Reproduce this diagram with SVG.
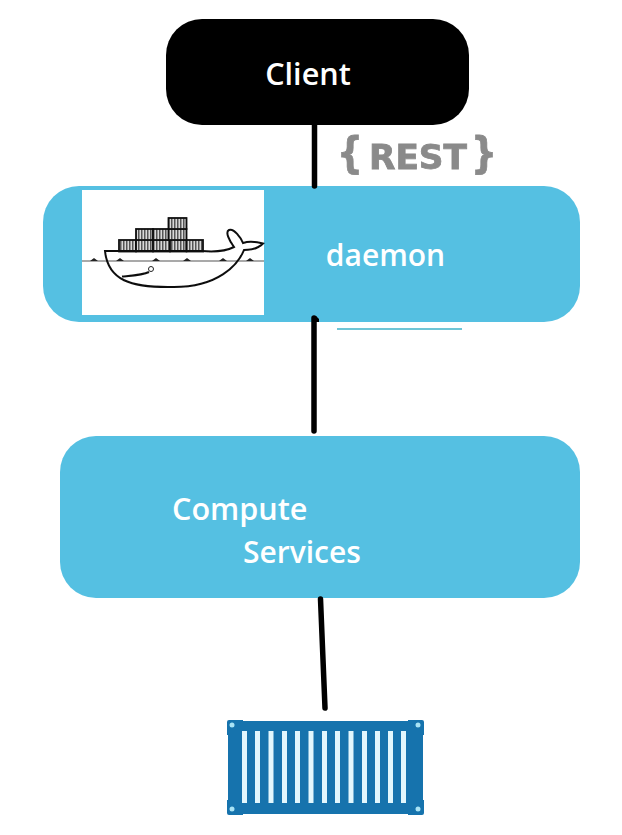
<svg xmlns="http://www.w3.org/2000/svg" width="622" height="835" viewBox="0 0 622 835">
<style>
.lbl{font-family:"Open Sans","Noto Sans",sans-serif;font-size:30.600px;font-weight:600;fill:#fff}
.conn{stroke:#000;stroke-width:5.500;stroke-linecap:round;fill:none}
.box{fill:#55c0e2}
.wl{fill:none;stroke:#111;stroke-width:2}
.crate{fill:url(#stripes);stroke:#111;stroke-width:1.800}
.slat{fill:#e2f7fd}
.cnr{fill:#a9e3f5}
.rest{font-family:"DejaVu Sans",sans-serif;font-weight:700;fill:#8a8a8a;stroke:#8a8a8a;stroke-width:0.800}
</style>
<defs>
<pattern id="stripes" width="3" height="4" patternUnits="userSpaceOnUse">
<rect width="3" height="4" fill="#d8d8d8"/>
<rect width="1.500" height="4" fill="#555"/>
</pattern>
<filter id="soft" x="-5%" y="-5%" width="110%" height="110%"><feGaussianBlur stdDeviation="0.500"/></filter>
</defs>
<rect width="622" height="835" fill="#fff"/>
<g id="client">
<rect x="166" y="19" width="303" height="106" rx="36" fill="#000"/>
<text class="lbl" x="308" y="85" text-anchor="middle">Client</text>
</g>
<g id="rest" filter="url(#soft)">
<text class="rest" x="337" y="168" font-size="42" textLength="26" lengthAdjust="spacingAndGlyphs">{</text>
<text class="rest" x="369" y="169" font-size="33" textLength="98" lengthAdjust="spacingAndGlyphs">REST</text>
<text class="rest" x="471" y="168" font-size="42" textLength="26" lengthAdjust="spacingAndGlyphs">}</text>
</g>
<g id="daemon">
<rect x="43" y="186" width="537" height="136" rx="36" class="box"/>
<rect x="82" y="190" width="182" height="125" fill="#fff"/>
<g id="whale" filter="url(#soft)">
<line x1="82" y1="261" x2="264" y2="261" stroke="#555" stroke-width="1"/>
<path d="M90 261l4-3 4 3zM116 261l4-3 4 3zM152 261l4-3 4 3zM183 261l4-3 4 3zM219 261l4-3 4 3zM246 261l4-3 4 3z" fill="#222"/>
<g>
<rect class="crate" x="119" y="240" width="17" height="11.500"/>
<rect class="crate" x="136" y="240" width="17" height="11.500"/>
<rect class="crate" x="153" y="240" width="17" height="11.500"/>
<rect class="crate" x="170" y="240" width="16.500" height="11.500"/>
<rect class="crate" x="186.500" y="240" width="16.500" height="11.500"/>
<rect class="crate" x="136" y="229" width="17" height="11"/>
<rect class="crate" x="153" y="229" width="17" height="11"/>
<rect class="crate" x="168.500" y="229" width="18" height="11"/>
<rect class="crate" x="168.500" y="218" width="18" height="11"/>
</g>
<path class="wl" d="M105 251H202C213 252 226 251 234 247C229 240 225 232 229 230C234 228 241 238 243 243C249 241 257 242 263 243.500C258 249 250 250 244 250C238 265 218 287 174 287C130 288 108 280 105 251Z"/>
<path class="wl" d="M122 276.500C133 275.500 143 275 149 272"/>
<circle cx="151" cy="269" r="2.500" fill="none" stroke="#222" stroke-width="1"/>
</g>
<text class="lbl" x="385.500" y="266" text-anchor="middle" style="font-size:30px">daemon</text>
</g>
<g id="compute">
<rect x="60" y="436" width="520" height="162" rx="36" class="box"/>
<text class="lbl" x="172" y="520">Compute</text>
<text class="lbl" x="243" y="563" style="font-size:30px">Services</text>
</g>
<g id="container" filter="url(#soft)">
<path d="M227 722Q227 720 229 720H243V721H408V720H422Q424 720 424 722V735H423V800H424V813Q424 815 422 815H408V814H243V815H229Q227 815 227 813V800H228V735H227Z" fill="#1573ad"/>
<g class="slat">
<rect x="242" y="731" width="5" height="72"/><rect x="255" y="731" width="5" height="72"/><rect x="268.500" y="731" width="5" height="72"/><rect x="282" y="731" width="5" height="72"/><rect x="295" y="731" width="5" height="72"/><rect x="308.500" y="731" width="5" height="72"/><rect x="322" y="731" width="5" height="72"/><rect x="335" y="731" width="5" height="72"/><rect x="348.500" y="731" width="5" height="72"/><rect x="362" y="731" width="5" height="72"/><rect x="375" y="731" width="5" height="72"/><rect x="388" y="731" width="5" height="72"/><rect x="401" y="731" width="5" height="72"/>
</g>
<circle class="cnr" cx="232" cy="725" r="2.500"/><circle class="cnr" cx="418" cy="725" r="2.500"/><circle class="cnr" cx="232" cy="809" r="2.500"/><circle class="cnr" cx="418" cy="809" r="2.500"/>
</g>
<g id="connectors">
<line class="conn" x1="314.500" y1="123" x2="314.500" y2="186"/>
<path class="conn" d="M314 318V431"/>
<path d="M316 316l3 3v3h-3z" fill="#000"/>
<line class="conn" x1="320.500" y1="599" x2="325" y2="708"/>
<line x1="337" y1="329" x2="462" y2="329" stroke="#6fc5d6" stroke-width="2"/>
</g>
</svg>
